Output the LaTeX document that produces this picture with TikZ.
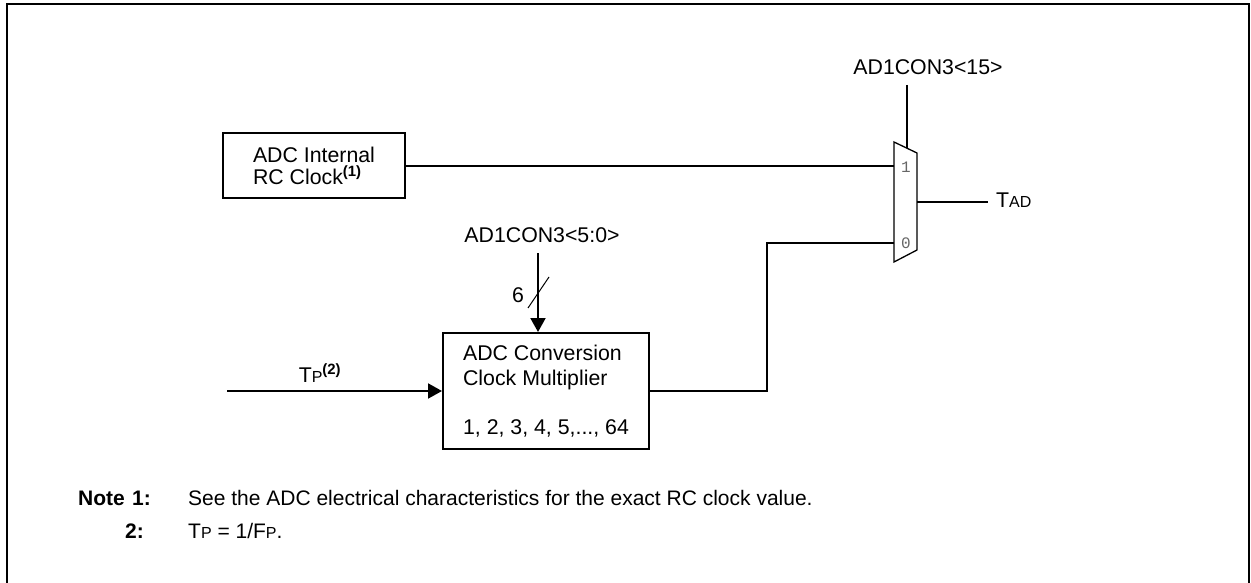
\documentclass[tikz,border=0pt]{standalone}
\usepackage{fontspec}
\setmainfont{Liberation Sans}
\newfontfamily\monofnt{Liberation Mono}
\usetikzlibrary{arrows.meta}
\newcommand{\smc}[1]{{\fontsize{16}{18}\selectfont #1}}
\newcommand{\supb}[1]{\textsuperscript{\bfseries #1}}
\begin{document}
\begin{tikzpicture}[x=1pt,y=-1pt,
  every node/.style={font=\fontsize{21.3}{21.5}\selectfont, inner sep=0pt},
  blk/.style={draw, line width=2pt, minimum width=#1},
  wire/.style={line width=2pt},
  arr/.style={line width=2pt, -{Triangle[length=14pt,width=15pt]}},
  muxline/.style={line width=1.3pt},
  muxlbl/.style={font=\monofnt\fontsize{16}{16}\selectfont, text=black!60},
  notelbl/.style={anchor=base west, font=\fontsize{21}{21.5}\selectfont},
  notebold/.style={notelbl, font=\bfseries\fontsize{21}{21.5}\selectfont}
]
\useasboundingbox (0,0) rectangle (1251,583);
% frame
\draw[line width=2.5pt] (7,583) -- (7,4) -- (1249,4) -- (1249,583);

% RC clock box
\node[blk=182pt, minimum height=65pt, align=left] (rc) at (314,166)
  {ADC Internal\\RC Clock\supb{(1)}};

% multiplier box
\node[blk=206pt, minimum height=116pt, align=left,
      font=\fontsize{21.3}{24.5}\selectfont] (mult) at (546,391)
  {ADC Conversion\\Clock Multiplier\\[24.5pt]1, 2, 3, 4, 5,..., 64};

% mux
\coordinate (mA) at (894,142);
\coordinate (mB) at (917,153);
\coordinate (mC) at (917,250);
\coordinate (mD) at (894,262);
\draw[muxline] (mA) -- (mB) -- (mC) -- (mD) -- cycle;
\coordinate (m1) at (894,166);
\coordinate (m0) at (894,243);
\coordinate (mout) at (917,202);
\coordinate (msel) at (907,148);
\node[muxlbl] (l1) at (906,167) {1};
\node[muxlbl] (l0) at (906,243) {0};

% select
\node (sel) at (928,67) {AD1CON3<15>};
\coordinate (selTop) at (907,85);
\draw[wire] (selTop) -- (msel);

% output
\coordinate (outEnd) at (988,202);
\draw[wire] (mout) -- (outEnd);
\node[anchor=west] (tad) at (996,200) {T\smc{AD}};

% RC to mux
\draw[wire] (rc.east) -- (m1);

% multiplier to mux
\draw[wire] (mult.east) -- ++(117,0) |- (m0);

% control input
\node (ctl) at (542,235) {AD1CON3<5:0>};
\coordinate (ctlTop) at (538,253);
\draw[arr] (ctlTop) -- (ctlTop |- mult.north);
\coordinate (sA) at (528,308);
\coordinate (sB) at (549,277);
\draw[line width=1pt] (sA) -- (sB);
\node (six) at (518,295) {6};

% Tp input
\coordinate (tpStart) at (227,391);
\draw[arr] (tpStart) -- (mult.west);
\node (tp) at (320,373) {T\smc{P}\supb{(2)}};

% notes
\node[notebold] (note) at (78,505) {Note};
\node[notebold] (n1) at (132,505) {1:};
\node[notelbl] (t1) at (188,505) {See the ADC electrical characteristics for the exact RC clock value.};
\node[notebold] (n2) at (125,538) {2:};
\node[notelbl] (t2) at (188,538) {T\smc{P} = 1/F\smc{P}.};
\end{tikzpicture}
\end{document}
